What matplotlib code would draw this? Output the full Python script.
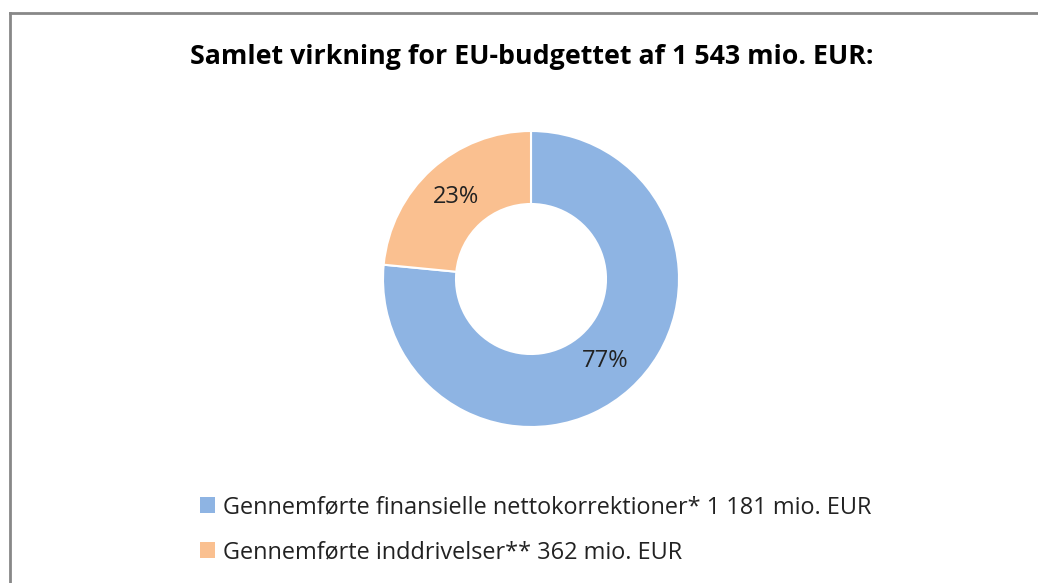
import matplotlib.pyplot as plt
from matplotlib.lines import Line2D
from matplotlib.patches import Patch

labels = ["Gennemførte finansielle nettokorrektioner* 1 181 mio. EUR",
          "Gennemførte inddrivelser** 362 mio. EUR"]
values = [1181, 362]
colors = ["#8EB4E3", "#FAC090"]
title = "Samlet virkning for EU-budgettet af 1 543 mio. EUR:"

W, H = 1038, 583
fig = plt.figure(figsize=(W / 100, H / 100), dpi=100)
plt.rcParams['font.family'] = ['Open Sans', 'DejaVu Sans']

# chart frame (only top and left edges fall inside the image)
fig.add_artist(Line2D([10 / W, 10 / W], [0, 1 - 13 / H], color="#888888", lw=2))
fig.add_artist(Line2D([10 / W, 1], [1 - 13 / H, 1 - 13 / H], color="#888888", lw=2))

fig.text(532 / W, 1 - 57 / H, title, ha="center", va="center",
         fontsize=19.3, fontweight="bold", color="black")

cx, cy, r = 531, 279, 148
ax = fig.add_axes([(cx - r) / W, (H - cy - r) / H, 2 * r / W, 2 * r / H])
wedges, _, autotexts = ax.pie(values, colors=colors, startangle=90, counterclock=False,
                              radius=1, autopct=lambda p: f"{p:.0f}%", pctdistance=0.75,
                              wedgeprops=dict(width=1 - 75 / 148, edgecolor="white", linewidth=1.5),
                              textprops=dict(fontsize=17, color="#222222"))
ax.set_xlim(-1, 1)
ax.set_ylim(-1, 1)
ax.set_aspect("equal")
ax.axis("off")

handles = [Patch(facecolor=c, edgecolor="none") for c in colors]
fig.legend(handles, labels, loc="upper left", bbox_to_anchor=(200 / W, 1 - 495 / H),
           frameon=False, fontsize=16.9, handlelength=0.65, handleheight=0.65,
           handletextpad=0.35, labelspacing=0.9, labelcolor="#222222",
           borderpad=0, borderaxespad=0)

fig.savefig("out.png", dpi=100)
